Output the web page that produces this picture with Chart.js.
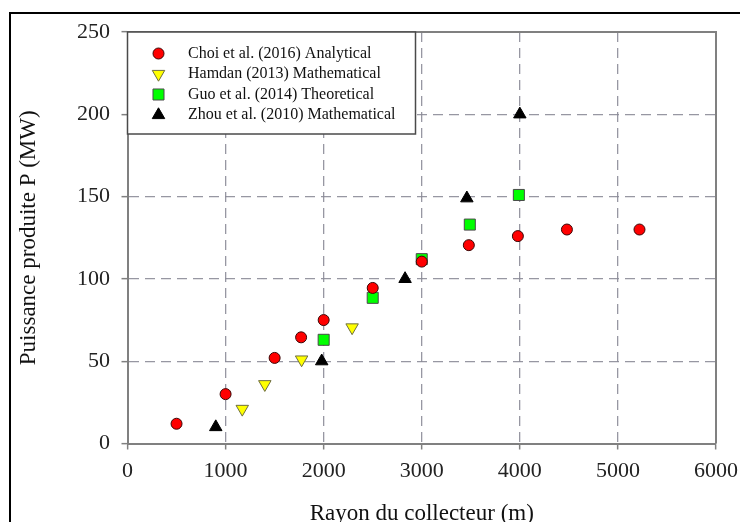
<!DOCTYPE html>
<html>
<head>
<meta charset="utf-8">
<script src="https://cdn.jsdelivr.net/npm/chart.js@4.4.0/dist/chart.umd.min.js"></script>
<style>
  html, body { margin: 0; padding: 0; background: #fff; overflow: hidden; }
  #wrap { position: relative; width: 740px; height: 522px; overflow: hidden; }
  #chart { position: absolute; left: 0; top: 0; }
  #frame { position: absolute; left: 9px; top: 12px; right: -10px; bottom: -10px;
           border-top: 2px solid #000; border-left: 2px solid #000; pointer-events: none; }
</style>
</head>
<body>
<div id="wrap">
  <canvas id="chart" width="740" height="530"></canvas>
  <div id="frame"></div>
</div>
<script>
// --- data ---
const xTicks = [0, 1000, 2000, 3000, 4000, 5000, 6000];
const yTicks = [0, 50, 100, 150, 200, 250];

const choiX = [500, 1000, 1500, 1770, 2000, 2500, 3000, 3480, 3980, 4480, 5220];
const choiY = [12, 30, 52, 64.5, 75, 94.5, 110.5, 120.5, 126, 130, 130];

const hamdanX = [1170, 1400, 1775, 2290];
const hamdanY = [21, 36, 51, 70.5];

const guoX = [2000, 2500, 3000, 3490, 3990];
const guoY = [63, 88.5, 112, 133, 151];

const zhouX = [900, 1980, 2830, 3460, 4000];
const zhouY = [10, 50, 100, 149, 200];

const seriesNames = [
    'Choi et al. (2016) Analytical',
    'Hamdan (2013) Mathematical',
    'Guo et al. (2014) Theoretical',
    'Zhou et al. (2010) Mathematical'
];

function pts(xs, ys) {
    return xs.map((x, i) => ({ x: x, y: ys[i] }));
}

const SERIF = "'Liberation Serif', 'DejaVu Serif', serif";
const gridColor = 'rgba(140,140,152,0.9)';
const axisColor = '#808080';

// legend drawn inside the plot, top-left, in a boxed frame
const insideLegend = {
    id: 'insideLegend',
    afterDatasetsDraw(chart) {
        const { ctx, chartArea } = chart;
        const x = chartArea.left, y = chartArea.top, w = 288, h = 102;
        ctx.save();
        ctx.fillStyle = '#fff';
        ctx.fillRect(x, y, w, h);
        ctx.strokeStyle = '#4a4a4a';
        ctx.lineWidth = 1.5;
        ctx.strokeRect(x, y, w, h);
        chart.data.datasets.forEach((ds, i) => {
            const cy = y + 21.5 + i * 20.5;
            ctx.fillStyle = ds.backgroundColor;
            ctx.strokeStyle = ds.borderColor;
            ctx.lineWidth = ds.borderWidth;
            Chart.helpers.drawPoint(ctx, {
                pointStyle: ds.pointStyle,
                rotation: ds.pointRotation || 0,
                radius: ds.pointRadius,
                borderWidth: ds.borderWidth
            }, x + 31, cy);
            ctx.fillStyle = '#111';
            ctx.font = '16px ' + SERIF;
            ctx.textAlign = 'left';
            ctx.textBaseline = 'middle';
            ctx.fillText(ds.label, x + 60.5, cy);
        });
        ctx.restore();
    }
};

// top and right edges of the plot frame
const plotFrame = {
    id: 'plotFrame',
    beforeDatasetsDraw(chart) {
        const { ctx, chartArea } = chart;
        ctx.save();
        ctx.strokeStyle = axisColor;
        ctx.lineWidth = 2;
        ctx.beginPath();
        ctx.moveTo(chartArea.left, chartArea.top);
        ctx.lineTo(chartArea.right, chartArea.top);
        ctx.lineTo(chartArea.right, chartArea.bottom);
        ctx.stroke();
        ctx.restore();
    }
};

const ctx = document.getElementById('chart').getContext('2d');
new Chart(ctx, {
    type: 'scatter',
    data: {
        datasets: [
            {
                label: seriesNames[0],
                data: pts(choiX, choiY),
                pointStyle: 'circle',
                pointRadius: 5.5,
                backgroundColor: '#ff0000',
                borderColor: '#3a0606',
                borderWidth: 1
            },
            {
                label: seriesNames[1],
                data: pts(hamdanX, hamdanY),
                pointStyle: 'triangle',
                pointRotation: 180,
                pointRadius: 7.2,
                backgroundColor: '#ffff00',
                borderColor: '#6e6e40',
                borderWidth: 1
            },
            {
                label: seriesNames[2],
                data: pts(guoX, guoY),
                pointStyle: 'rect',
                pointRadius: 7.8,
                backgroundColor: '#00ff00',
                borderColor: '#4a4a4a',
                borderWidth: 1
            },
            {
                label: seriesNames[3],
                data: pts(zhouX, zhouY),
                pointStyle: 'triangle',
                pointRadius: 7.2,
                backgroundColor: '#000000',
                borderColor: '#000000',
                borderWidth: 1
            }
        ]
    },
    options: {
        responsive: false,
        animation: false,
        events: [],
        layout: { padding: { top: 32, right: 24, left: 0, bottom: 0 } },
        plugins: {
            legend: { display: false },
            tooltip: { enabled: false }
        },
        scales: {
            x: {
                type: 'linear',
                min: xTicks[0],
                max: xTicks[xTicks.length - 1],
                afterBuildTicks: s => { s.ticks = xTicks.map(v => ({ value: v })); },
                afterFit: s => { s.height = 86.5; s.paddingLeft = 0; s.paddingRight = 0; },
                ticks: {
                    color: '#222',
                    font: { family: SERIF, size: 22 },
                    padding: 8.3,
                    maxRotation: 0,
                    callback: v => String(v)
                },
                grid: {
                    color: c => (c.tick && (c.tick.value === xTicks[0] || c.tick.value === xTicks[xTicks.length - 1])) ? 'rgba(0,0,0,0)' : gridColor,
                    lineWidth: 1.3,
                    tickColor: axisColor,
                    tickLength: 6,
                    tickWidth: 1.5
                },
                border: { display: true, color: axisColor, width: 2, dash: [10, 6] },
                title: {
                    display: true,
                    text: 'Rayon du collecteur (m)',
                    color: '#111',
                    font: { family: SERIF, size: 23 },
                    padding: { top: 0, bottom: 2 }
                }
            },
            y: {
                type: 'linear',
                min: yTicks[0],
                max: yTicks[yTicks.length - 1],
                afterBuildTicks: s => { s.ticks = yTicks.map(v => ({ value: v })); },
                afterFit: s => { s.width = 127.5; s.paddingTop = 0; s.paddingBottom = 0; },
                ticks: {
                    color: '#222',
                    font: { family: SERIF, size: 22 },
                    padding: 11.5,
                    callback: v => String(v)
                },
                grid: {
                    color: c => (c.tick && (c.tick.value === yTicks[0] || c.tick.value === yTicks[yTicks.length - 1])) ? 'rgba(0,0,0,0)' : gridColor,
                    lineWidth: 1.3,
                    tickColor: axisColor,
                    tickLength: 6,
                    tickWidth: 1.5
                },
                border: { display: true, color: axisColor, width: 2, dash: [10, 6] },
                title: {
                    display: true,
                    text: 'Puissance produite P (MW)',
                    color: '#111',
                    font: { family: SERIF, size: 23 },
                    padding: { top: 14.7, bottom: 0 }
                }
            }
        }
    },
    plugins: [plotFrame, insideLegend]
});
</script>
</body>
</html>
